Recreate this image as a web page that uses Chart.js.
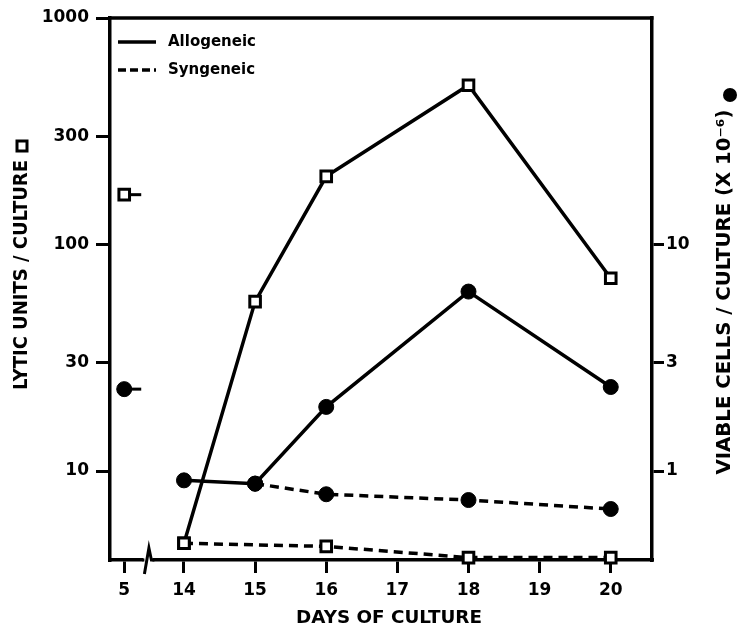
<!DOCTYPE html>
<html>
<head>
<meta charset="utf-8">
<script src="https://cdn.jsdelivr.net/npm/chart.js@4.4.1/dist/chart.umd.min.js"></script>
<style>
    html, body { margin: 0; padding: 0; background: #fff; }
    #wrap { width: 742px; height: 628px; }
</style>
</head>
<body>
<div id="wrap"><canvas id="chart"></canvas></div>
<script>
// days on the x axis (day 5 sits left of the axis break)
const tickDays = [5, 14, 15, 16, 17, 18, 19, 20]

// lytic units / culture (left axis, squares)
const alloLyticDays = [14, 15, 16, 18, 20]
const alloLytic = [4.8, 56, 200, 505, 71]
const synLyticDays = [14, 16, 18, 20]
const synLytic = [4.8, 4.65, 4.15, 4.15]

// viable cells / culture x10^-6 (right axis, circles)
const alloCellsDays = [14, 15, 16, 18, 20]
const alloCells = [0.91, 0.88, 1.92, 6.2, 2.35]
const synCellsDays = [15, 16, 18, 20]
const synCells = [0.88, 0.79, 0.745, 0.68]

// day 5 starting values
const day5Lytic = 166
const day5Cells = 2.3

const leftTicks = [10, 30, 100, 300, 1000]
const rightTicks = [1, 3, 10]

// where day 5 is put on the broken x axis
const day5Pos = 13.16

function axisX(d) {
    return d === 5 ? day5Pos : d
}

function points(xs, ys) {
    return xs.map((d, i) => ({ x: axisX(d), y: ys[i] }))
}

const font = '"DejaVu Sans", sans-serif'
const dash = [9, 6]

const squareStyle = {
    pointStyle: 'rect',
    pointRadius: 7.5,
    pointBorderWidth: 3,
    pointBackgroundColor: '#fff',
    pointBorderColor: '#000',
}
const circleStyle = {
    pointStyle: 'circle',
    pointRadius: 7.5,
    pointBorderWidth: 1,
    pointBackgroundColor: '#000',
    pointBorderColor: '#000',
}

function drawTitle(ctx, text, cx, cy, angle, size, length) {
    ctx.save()
    ctx.translate(cx, cy)
    ctx.rotate(angle)
    ctx.font = 'bold ' + size + 'px ' + font
    const w = ctx.measureText(text).width
    ctx.scale(length / w, 1)
    ctx.fillStyle = '#000'
    ctx.textAlign = 'center'
    ctx.textBaseline = 'middle'
    ctx.fillText(text, 0, 0)
    ctx.restore()
}

const decorations = {
    id: 'decorations',
    afterDatasetsDraw(chart) {
        const ctx = chart.ctx
        // short tails to the right of the day 5 markers
        chart.data.datasets.forEach((ds, i) => {
            if (!ds.tail) return
            const p = chart.getDatasetMeta(i).data[0]
            ctx.save()
            ctx.strokeStyle = '#000'
            ctx.lineWidth = 3
            ctx.beginPath()
            ctx.moveTo(p.x + 6, p.y)
            ctx.lineTo(p.x + 17, p.y)
            ctx.stroke()
            ctx.restore()
        })
    },
    afterDraw(chart) {
        const ctx = chart.ctx
        const a = chart.chartArea

        ctx.save()
        // top frame line
        ctx.strokeStyle = '#000'
        ctx.lineWidth = 3.5
        ctx.beginPath()
        ctx.moveTo(a.left - 1.5, a.top)
        ctx.lineTo(a.right + 1.5, a.top)
        ctx.stroke()

        // axis break between 5 and 14
        const bx = chart.scales.x.getPixelForValue(13.5)
        ctx.fillStyle = '#fff'
        ctx.fillRect(bx - 5, a.bottom - 3, 9, 6)
        ctx.lineWidth = 3
        ctx.beginPath()
        ctx.moveTo(bx - 6, a.bottom)
        ctx.lineTo(bx - 4, a.bottom)
        ctx.moveTo(bx - 4, a.bottom + 14)
        ctx.lineTo(bx + 0.5, a.bottom - 12)
        ctx.lineTo(bx + 3, a.bottom)
        ctx.lineTo(bx + 6, a.bottom)
        ctx.stroke()

        // legend
        ctx.lineWidth = 3.5
        ctx.beginPath()
        ctx.moveTo(118, 42)
        ctx.lineTo(156, 42)
        ctx.stroke()
        ctx.setLineDash([8, 4])
        ctx.beginPath()
        ctx.moveTo(118, 70)
        ctx.lineTo(156, 70)
        ctx.stroke()
        ctx.setLineDash([])
        ctx.fillStyle = '#000'
        ctx.font = 'bold 15px ' + font
        ctx.textBaseline = 'middle'
        ctx.fillText('Allogeneic', 168, 42)
        ctx.fillText('Syngeneic', 168, 70)

        // axis titles
        drawTitle(ctx, 'LYTIC UNITS / CULTURE', 22, 275, -Math.PI / 2, 19, 230)
        ctx.lineWidth = 3
        ctx.strokeRect(17, 141, 10, 10)
        drawTitle(ctx, 'VIABLE CELLS / CULTURE (X 10\u207B\u2076)', 725, 292, -Math.PI / 2, 19, 365)
        ctx.beginPath()
        ctx.arc(730, 95, 7, 0, Math.PI * 2)
        ctx.fill()
        drawTitle(ctx, 'DAYS OF CULTURE', 389, 618, 0, 18, 186)
        ctx.restore()
    }
}

const axisGrid = {
    display: true,
    drawOnChartArea: false,
    drawTicks: true,
    color: '#000',
    lineWidth: 3,
}
const axisBorder = { display: true, color: '#000', width: 3.5 }
const tickFont = { family: font, size: 17, weight: 'bold' }

new Chart(document.getElementById('chart'), {
    type: 'line',
    data: {
        datasets: [
            {
                label: 'Allogeneic lytic units',
                data: points(alloLyticDays, alloLytic),
                yAxisID: 'y',
                borderColor: '#000',
                borderWidth: 3.5,
                ...squareStyle,
            }, {
                label: 'Syngeneic lytic units',
                data: points(synLyticDays, synLytic),
                yAxisID: 'y',
                borderColor: '#000',
                borderWidth: 3.5,
                borderDash: dash,
                ...squareStyle,
            }, {
                label: 'Allogeneic viable cells',
                data: points(alloCellsDays, alloCells),
                yAxisID: 'y2',
                borderColor: '#000',
                borderWidth: 3.5,
                ...circleStyle,
            }, {
                label: 'Syngeneic viable cells',
                data: points(synCellsDays, synCells),
                yAxisID: 'y2',
                borderColor: '#000',
                borderWidth: 3.5,
                borderDash: dash,
                ...circleStyle,
            }, {
                label: 'Day 5 lytic units',
                data: points([5], [day5Lytic]),
                yAxisID: 'y',
                showLine: false,
                tail: true,
                ...squareStyle,
            }, {
                label: 'Day 5 viable cells',
                data: points([5], [day5Cells]),
                yAxisID: 'y2',
                showLine: false,
                tail: true,
                ...circleStyle,
            },
        ],
    },
    options: {
        responsive: true,
        maintainAspectRatio: false,
        animation: false,
        clip: false,
        layout: { padding: { top: 18, left: 0, right: 0, bottom: 0 } },
        plugins: {
            legend: { display: false },
            tooltip: { enabled: false },
        },
        scales: {
            x: {
                type: 'linear',
                min: 12.96,
                max: 20.58,
                grid: { ...axisGrid, tickLength: 13 },
                border: axisBorder,
                afterBuildTicks: (scale) => {
                    scale.ticks = tickDays.map(d => ({ value: axisX(d) }))
                },
                afterFit: (scale) => { scale.height = 68 },
                ticks: {
                    color: '#000',
                    font: tickFont,
                    padding: 7,
                    maxRotation: 0,
                    autoSkip: false,
                    callback: (v) => Math.abs(v - day5Pos) < 0.01 ? '5' : String(v),
                },
            },
            y: {
                type: 'logarithmic',
                position: 'left',
                min: 4.05,
                max: 1000,
                grid: { ...axisGrid, tickLength: 14 },
                border: axisBorder,
                afterBuildTicks: (scale) => {
                    scale.ticks = leftTicks.map(v => ({ value: v }))
                },
                afterFit: (scale) => { scale.width = 110 },
                ticks: {
                    color: '#000',
                    font: tickFont,
                    padding: 7,
                    autoSkip: false,
                    callback: (v) => String(v),
                },
            },
            y2: {
                type: 'logarithmic',
                position: 'right',
                min: 0.405,
                max: 100,
                grid: { ...axisGrid, tickLength: 12 },
                border: axisBorder,
                afterBuildTicks: (scale) => {
                    scale.ticks = rightTicks.map(v => ({ value: v }))
                },
                afterFit: (scale) => { scale.width = 90 },
                ticks: {
                    color: '#000',
                    font: tickFont,
                    padding: 2,
                    autoSkip: false,
                    callback: (v) => String(v),
                },
            },
        },
    },
    plugins: [decorations],
})
</script>
</body>
</html>
